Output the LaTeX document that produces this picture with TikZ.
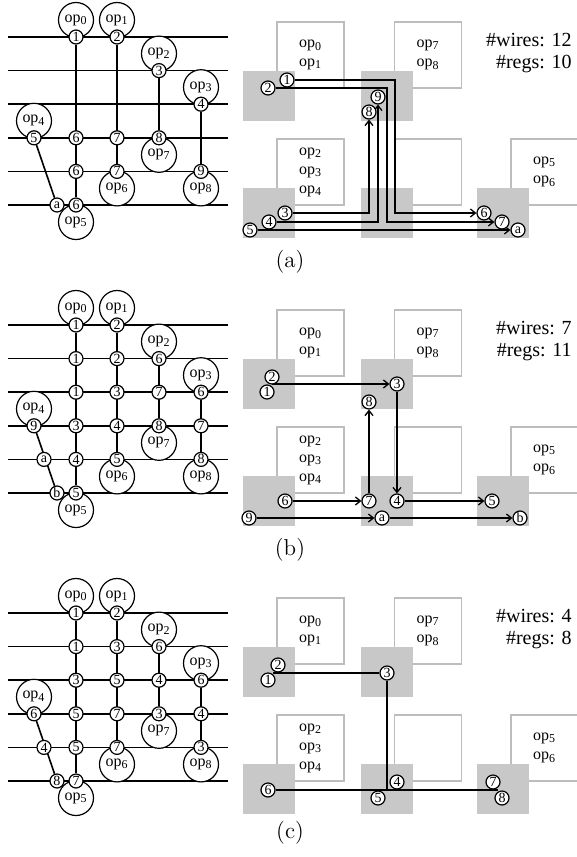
\documentclass[tikz,border=0pt]{standalone}
\usepackage{fontspec}
\setmainfont{Liberation Serif}
\newfontfamily\lmfont{Latin Modern Roman}
\usetikzlibrary{arrows.meta, backgrounds}
\definecolor{corecol}{HTML}{C8C8C8}
\definecolor{tilecol}{HTML}{BDBDBD}
\newcommand{\opx}[1]{op\textsubscript{#1}}

% op circles (same in every panel)
\newcommand{\opcircles}[1]{%
  \foreach \x/\i/\sg/\k in {76/1/-1/0, 117/1/-1/1, 159/2/-1/2, 201/3/-1/3, 34/4/-1/4,
                            159/4/1/7, 117/5/1/6, 201/5/1/8, 76/6/1/5}
    \node[opc] (#1op\k) at (\x, {3.4+33.6*\i+17*\sg}) {\opx{\k}};
}

% horizontal wires, columns and the slant
\newcommand{\wiregrid}[1]{%
  \begin{scope}[on background layer]
    \foreach \i in {1,...,6}
      \draw[wire] (8, {3.4+33.6*\i}) -- (228, {3.4+33.6*\i});
    \draw[wire] (#176-1) -- (#176-6);
    \draw[wire] (#1117-1) -- (#1117-5);
    \draw[wire] (#1159-2) -- (#1159-4);
    \draw[wire] (#1201-3) -- (#1201-5);
    \draw[wire] (#134-4) -- (#157-6);
  \end{scope}
}

% tiles: outlined box + gray core
\newcommand{\tiles}[1]{%
  \begin{scope}[on background layer]
    \foreach \gx/\gy/\txt [count=\n] in {269/96/{\opx{0}\\\opx{1}}, 386.5/96/{\opx{7}\\\opx{8}},
        269/213/{\opx{2}\\\opx{3}\\\opx{4}}, 386.5/213/{}, 503/213/{\opx{5}\\\opx{6}}} {
      \node[tile] (#1tile\n) at ({\gx+41.5}, {\gy-41}) {\txt};
      \node[core] (#1core\n) at (\gx, \gy) {};
    }
  \end{scope}
}

\begin{document}
\begin{tikzpicture}[
  x=0.5pt, y=-0.5pt,
  reg/.style={circle, draw, fill=white, line width=0.6pt, inner sep=0pt,
    minimum size=7pt, font=\fontsize{7}{7}\selectfont},
  opc/.style={circle, draw, fill=white, line width=0.6pt, inner sep=0pt,
    minimum size=17.5pt, font=\fontsize{8}{8}\selectfont},
  wire/.style={line width=0.8pt},
  link/.style={-{Straight Barb[length=2.5pt, width=4pt]}, line width=0.65pt},
  tie/.style={line width=0.65pt},
  tile/.style={draw=tilecol, fill=white, line width=0.7pt, minimum width=33.5pt,
    minimum height=33pt, inner sep=0pt, align=center, font=\fontsize{8}{9.5}\selectfont},
  core/.style={fill=corecol, minimum width=26pt, minimum height=25pt, inner sep=0pt},
  stats/.style={anchor=east, align=right, inner sep=0pt, font=\fontsize{10}{11}\selectfont},
  caption/.style={font=\lmfont\fontsize{11.5}{12}\selectfont},
]
\useasboundingbox (0,0) rectangle (577,857);

% =================== (a) ===================
\begin{scope}
  \opcircles{a}
  \foreach \x/\i/\lab in {76/1/1, 117/1/2, 159/2/3, 201/3/4, 34/4/5, 76/4/6, 117/4/7,
                          159/4/8, 76/5/6, 117/5/7, 201/5/9, 57/6/a, 76/6/6}
    \node[reg] (a\x-\i) at (\x, {3.4+33.6*\i}) {\lab};
  \wiregrid{a}

  \tiles{a}
  \node[reg] (ra1) at (287,80) {1};
  \node[reg] (ra2) at (268,88) {2};
  \node[reg] (ra9) at (378,97) {9};
  \node[reg] (ra8) at (369,112) {8};
  \node[reg] (ra3) at (285,213) {3};
  \node[reg] (ra4) at (269,222) {4};
  \node[reg] (ra5) at (250,230) {5};
  \node[reg] (ra6) at (484,213) {6};
  \node[reg] (ra7) at (502,222) {7};
  \node[reg] (raa) at (518,230) {a};
  \coordinate (aturn1) at (395,150);
  \coordinate (aturn2) at (387,150);
  \begin{scope}[on background layer]
    \draw[link] (ra1) -| (aturn1) |- (ra6);
    \draw[link] (ra2) -| (aturn2) |- (ra7);
    \draw[link] (ra3) -| (ra8);
    \draw[link] (ra4) -| (ra9);
    \draw[link] (ra5) -- (raa);
  \end{scope}

  \node[stats] (astats) at (572,53) {\#wires: 12\\\#regs: 10};
  \node[caption] (acap) at (290,262) {(a)};
\end{scope}

% =================== (b) ===================
\begin{scope}[shift={(0,288)}]
  \opcircles{b}
  \foreach \x/\i/\lab in {76/1/1, 117/1/2, 76/2/1, 117/2/2, 159/2/6, 76/3/1, 117/3/3,
                          159/3/7, 201/3/6, 34/4/9, 76/4/3, 117/4/4, 159/4/8, 201/4/7,
                          44/5/a, 76/5/4, 117/5/5, 201/5/8, 57/6/b, 76/6/5}
    \node[reg] (b\x-\i) at (\x, {3.4+33.6*\i}) {\lab};
  \wiregrid{b}

  \tiles{b}
  \node[reg] (rb2) at (272,89) {2};
  \node[reg] (rb1) at (267,104) {1};
  \node[reg] (rb3) at (397,96) {3};
  \node[reg] (rb8) at (369,114) {8};
  \node[reg] (rb6) at (285,213) {6};
  \node[reg] (rb7) at (369,213) {7};
  \node[reg] (rb4) at (397,213) {4};
  \node[reg] (rb5) at (492,213) {5};
  \node[reg] (rb9) at (249,230) {9};
  \node[reg] (rba) at (382,230) {a};
  \node[reg] (rbb) at (520,230) {b};
  \begin{scope}[on background layer]
    \draw[link] (rb1.north east |- rb3) -- (rb3);
    \draw[link] (rb3) -- (rb4);
    \draw[link] (rb6) -- (rb7);
    \draw[link] (rb7) -- (rb8);
    \draw[link] (rb4) -- (rb5);
    \draw[link] (rb9) -- (rba);
    \draw[link] (rba) -- (rbb);
  \end{scope}

  \node[stats] (bstats) at (572,53) {\#wires: 7\\\#regs: 11};
  \node[caption] (bcap) at (290,262) {(b)};
\end{scope}

% =================== (c) ===================
\begin{scope}[shift={(0,576)}]
  \opcircles{c}
  \foreach \x/\i/\lab in {76/1/1, 117/1/2, 76/2/1, 117/2/3, 159/2/6, 76/3/3, 117/3/5,
                          159/3/4, 201/3/6, 34/4/6, 76/4/5, 117/4/7, 159/4/3, 201/4/4,
                          44/5/4, 76/5/5, 117/5/7, 201/5/3, 57/6/8, 76/6/7}
    \node[reg] (c\x-\i) at (\x, {3.4+33.6*\i}) {\lab};
  \wiregrid{c}

  \tiles{c}
  \node[reg] (rc2) at (278,89) {2};
  \node[reg] (rc1) at (268,104) {1};
  \node[reg] (rc3) at (387,97) {3};
  \node[reg] (rc6) at (268,214) {6};
  \node[reg] (rc4) at (397,206) {4};
  \node[reg] (rc5) at (378,222) {5};
  \node[reg] (rc7) at (493,206) {7};
  \node[reg] (rc8) at (502,222) {8};
  \coordinate (cend) at (497.5,214);
  \begin{scope}[on background layer]
    \draw[tie] (rc1.north east |- rc3) -- (rc3) -- (rc3 |- rc6);
    \draw[tie] (rc6) -- (cend);
  \end{scope}

  \node[stats] (cstats) at (572,53) {\#wires: 4\\\#regs: 8};
  \node[caption] (ccap) at (290,257) {(c)};
\end{scope}

\end{tikzpicture}
\end{document}
